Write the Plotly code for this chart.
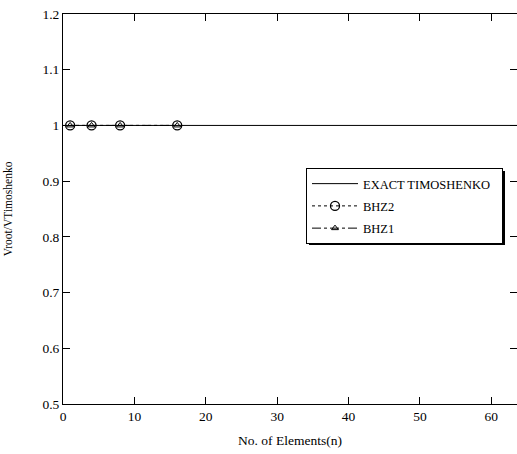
import plotly.graph_objects as go

n_exact = [0, 64]
v_exact = [1, 1]
n_bhz2 = [1, 4, 8, 16]
v_bhz2 = [1, 1, 1, 1]
n_bhz1 = [1, 4, 8, 16]
v_bhz1 = [1, 1, 1, 1]

font = "Liberation Serif"
fig = go.Figure()
fig.add_trace(go.Scatter(x=n_exact, y=v_exact, mode="lines", name="EXACT TIMOSHENKO\u00a0\u00a0",
                         legendgroup="a", line=dict(color="black", width=1)))
fig.add_trace(go.Scatter(x=n_bhz2, y=v_bhz2, mode="lines+markers", name="BHZ2",
                         legendgroup="b", line=dict(color="black", width=1, dash="dot"),
                         marker=dict(symbol="circle-open", size=9, color="black", line=dict(width=1.3))))
fig.add_trace(go.Scatter(x=n_bhz1, y=v_bhz1, mode="lines+markers", name="BHZ1",
                         legendgroup="c", line=dict(color="black", width=1, dash="dashdot"),
                         marker=dict(symbol="triangle-up-open", size=6, color="black", line=dict(width=1))))

L, R, T, B = 63, 0, 14, 50
W, H = 517, 454
pw, ph = W - L - R, H - T - B

def px(x):
    return (x - L) / pw

def py(y):
    return (H - B - y) / ph

fig.add_shape(type="rect", xref="paper", yref="paper",
              x0=px(309), x1=px(505), y0=py(245), y1=py(171),
              fillcolor="black", line=dict(width=0), layer="above")

fig.update_layout(
    width=W, height=H,
    margin=dict(l=L, r=R, t=T, b=B),
    paper_bgcolor="white", plot_bgcolor="white",
    font=dict(family=font, size=13.5, color="black"),
    showlegend=True,
    legend=dict(x=px(306), y=py(168), xanchor="left", yanchor="top",
                bgcolor="white", bordercolor="black", borderwidth=1,
                traceorder="grouped", tracegroupgap=3, itemwidth=46,
                font=dict(family=font, size=12.5)),
    xaxis=dict(range=[0, 63.6], tickvals=[0, 10, 20, 30, 40, 50, 60],
               ticks="inside", ticklen=7, tickcolor="black", showgrid=False, zeroline=False,
               showline=True, linecolor="black", linewidth=1, mirror="ticks",
               tickfont=dict(size=13.5),
               title=dict(text="No. of Elements(n)", font=dict(family=font, size=13.5), standoff=12)),
    yaxis=dict(range=[0.5, 1.2], tickvals=[0.5, 0.6, 0.7, 0.8, 0.9, 1.0, 1.1, 1.2],
               ticktext=["0.5", "0.6", "0.7", "0.8", "0.9", "1", "1.1", "1.2"],
               ticks="inside", ticklen=7, tickcolor="black", showgrid=False, zeroline=False,
               showline=True, linecolor="black", linewidth=1, mirror="ticks",
               tickfont=dict(size=13.5),
               title=dict(text="Vroot/VTimoshenko", font=dict(family=font, size=11.5), standoff=27)),
)
fig.write_html("out.html")
